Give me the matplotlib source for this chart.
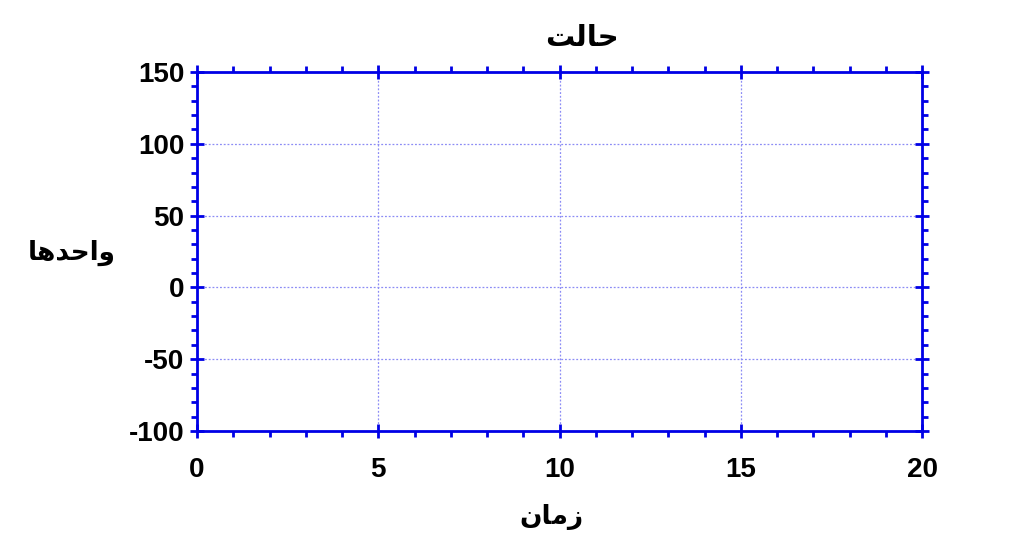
import matplotlib
matplotlib.use("Agg")
import matplotlib.pyplot as plt
from matplotlib.ticker import MultipleLocator

# Persian labels, written in Arabic presentation forms in display order,
# since matplotlib 3.10 has no shaping / bidi of its own.
TITLE = "\uFE96\uFEDF\uFE8E\uFEA3"                      # حالت
YLABEL = "\uFE8E\uFEEB\uFEAA\uFEA3\uFE8D\uFEED"         # واحدها
XLABEL = "\uFEE5\uFE8E\uFEE3\uFEAF"                     # زمان

x_limits = [0, 20]
y_limits = [-100, 150]
x_ticks = [0, 5, 10, 15, 20]
y_ticks = [-100, -50, 0, 50, 100, 150]

BLUE = "#0000E6"
GRID = "#8C8CF5"
FONTS = ["Liberation Sans", "DejaVu Sans"]

plt.rcParams["font.family"] = FONTS
plt.rcParams["axes.unicode_minus"] = False

fig = plt.figure(figsize=(10.24, 5.34), dpi=100)
ax = fig.add_axes([197 / 1024, 103 / 534, 725 / 1024, 359 / 534])

ax.set_xlim(*x_limits)
ax.set_ylim(*y_limits)
ax.set_xticks(x_ticks)
ax.set_yticks(y_ticks)
ax.xaxis.set_minor_locator(MultipleLocator(1))
ax.yaxis.set_minor_locator(MultipleLocator(10))

for side in ["top", "bottom", "left", "right"]:
    ax.spines[side].set_color(BLUE)
    ax.spines[side].set_linewidth(2)

ax.tick_params(which="major", direction="inout", length=10, width=2,
               color=BLUE, top=True, right=True, labelsize=20, pad=4)
ax.tick_params(which="minor", direction="out", length=4, width=2,
               color=BLUE, top=True, right=True)
for lab in ax.get_xticklabels() + ax.get_yticklabels():
    lab.set_fontweight("bold")
ax.tick_params(axis="x", which="major", pad=14)

ax.grid(True, which="major", color=GRID, linestyle=(0, (1.5, 1.5)),
        linewidth=0.9)

fig.text(582 / 1024, 1 - 38 / 534, TITLE, ha="center", va="center",
         fontsize=21, fontweight="bold", family=FONTS)
fig.text(551 / 1024, 1 - 517 / 534, XLABEL, ha="center", va="center",
         fontsize=19, fontweight="bold", family=FONTS)
fig.text(72 / 1024, 1 - 253 / 534, YLABEL, ha="center", va="center",
         fontsize=19, fontweight="bold", family=FONTS)

fig.savefig("out.png", dpi=100, facecolor="white")
